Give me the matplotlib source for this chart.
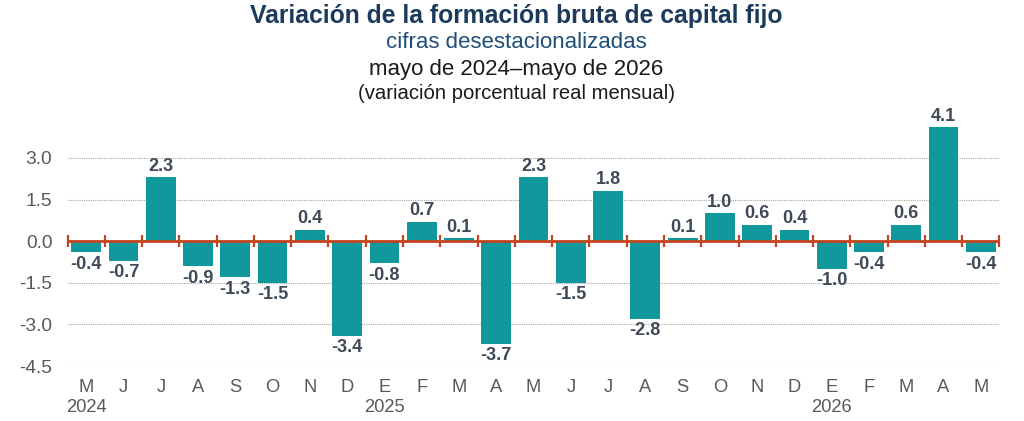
import matplotlib.pyplot as plt
import numpy as np

plt.rcParams['font.family'] = ['Liberation Sans', 'DejaVu Sans']

# data
months = ['M', 'J', 'J', 'A', 'S', 'O', 'N', 'D', 'E', 'F', 'M', 'A', 'M',
          'J', 'J', 'A', 'S', 'O', 'N', 'D', 'E', 'F', 'M', 'A', 'M']
years = {0: '2024', 8: '2025', 20: '2026'}
values = [-0.4, -0.7, 2.3, -0.9, -1.3, -1.5, 0.4, -3.4, -0.8, 0.7, 0.1, -3.7, 2.3,
          -1.5, 1.8, -2.8, 0.1, 1.0, 0.6, 0.4, -1.0, -0.4, 0.6, 4.1, -0.4]
yticks = [-4.5, -3.0, -1.5, 0.0, 1.5, 3.0]

bar_color = '#11989C'
axis_color = '#C4441F'
label_color = '#3F4A59'

fig = plt.figure(figsize=(10.24, 4.21), dpi=100)
ax = fig.add_axes([0.066, 0.1306, 0.910, 0.593])

x = np.arange(len(values))
ax.bar(x, values, width=0.8, color=bar_color, zorder=2)

# value labels above / below each bar
for xi, v in zip(x, values):
    if v >= 0:
        ax.annotate(f'{v:.1f}', (xi, v), xytext=(0, 2), textcoords='offset points',
                    ha='center', va='bottom', fontsize=13, fontweight='bold',
                    color=label_color)
    else:
        ax.annotate(f'{v:.1f}', (xi, v), xytext=(0, -2.5), textcoords='offset points',
                    ha='center', va='top', fontsize=13, fontweight='bold',
                    color=label_color)

# zero line with separators between bars
ax.axhline(0, color=axis_color, linewidth=2, zorder=3)
seps = np.arange(len(values) + 1) - 0.5
ax.plot(seps, np.zeros_like(seps), linestyle='none', marker='|', markersize=8,
        markeredgewidth=1.6, color=axis_color, zorder=3, clip_on=False)

ax.set_xlim(-0.5, len(values) - 0.5)
ax.set_ylim(-4.5, 4.5)
ax.set_yticks(yticks)
ax.set_yticklabels([f'{t:.1f}' for t in yticks])
ax.yaxis.grid(True, color='#A6A6A6', linestyle=(0, (1, 1)), linewidth=0.8, zorder=0)
ax.set_axisbelow(True)

labels = [m + ('\n' + years[i] if i in years else '\n') for i, m in enumerate(months)]
ax.set_xticks(x)
ax.set_xticklabels(labels, fontsize=13.2, color='#595959', linespacing=1.3, va='top')
ax.tick_params(axis='x', length=0, pad=9)
ax.tick_params(axis='y', length=0, labelsize=13.8, labelcolor='#595959', pad=11)
for s in ax.spines.values():
    s.set_visible(False)

fig.text(0.504, 0.963, 'Variación de la formación bruta de capital fijo', ha='center', va='center',
         fontsize=17.8, fontweight='bold', color='#1B3A5C')
fig.text(0.504, 0.898, 'cifras desestacionalizadas', ha='center', va='center',
         fontsize=16, color='#1F4E79')
fig.text(0.504, 0.836, 'mayo de 2024–mayo de 2026', ha='center', va='center',
         fontsize=16, color='#1a1a1a')
fig.text(0.504, 0.778, '(variación porcentual real mensual)', ha='center', va='center',
         fontsize=14.6, color='#1a1a1a')

fig.savefig('out.png', dpi=100)
